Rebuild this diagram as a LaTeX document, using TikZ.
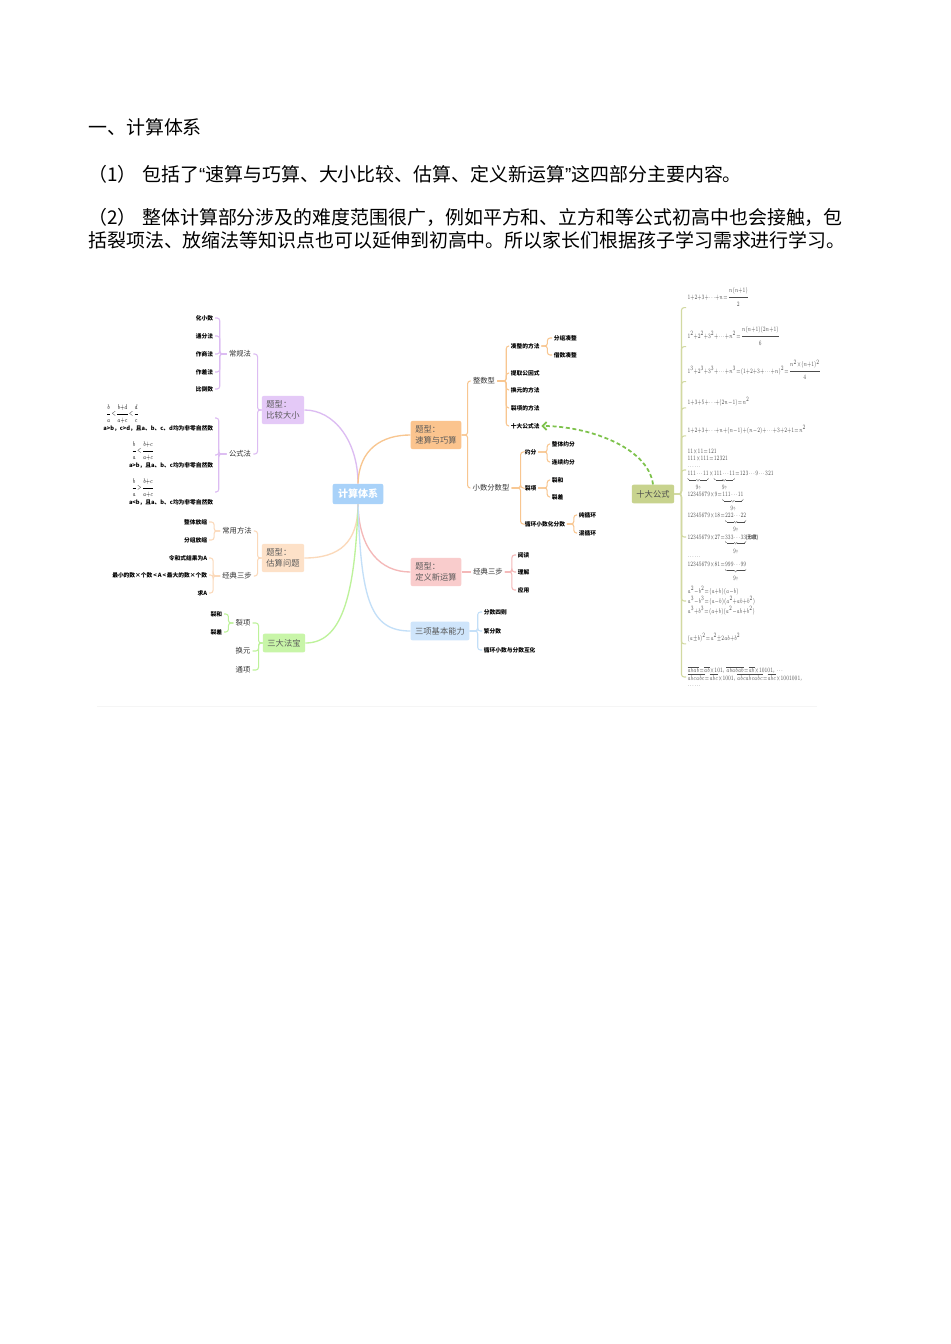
\documentclass[tikz,border=0pt]{standalone}
\usepackage{amsmath}
\usepackage{fontspec}
\setmainfont{Noto Sans CJK SC}
\newfontfamily\quotefont{Liberation Sans}
\usepackage{tikz}
\usetikzlibrary{arrows.meta,positioning}
\newcommand\tightmath{\thinmuskip=1mu\relax\medmuskip=0mu\relax\thickmuskip=1mu\relax}
\newcommand\fx[1]{\scalebox{0.62}[1]{#1}}
\definecolor{purpbox}{HTML}{E4C9F7}
\definecolor{purpline}{HTML}{DCBCF2}
\definecolor{orbox}{HTML}{FBC48E}
\definecolor{orline}{HTML}{F8C690}
\definecolor{peachbox}{HTML}{FDE1C8}
\definecolor{peachline}{HTML}{FBD9BA}
\definecolor{greenbox}{HTML}{C8F5A8}
\definecolor{greenline}{HTML}{BDF29A}
\definecolor{pinkbox}{HTML}{F9CCCC}
\definecolor{pinkline}{HTML}{F4B8B8}
\definecolor{bluebox}{HTML}{CFE5FB}
\definecolor{blueline}{HTML}{C3DFF8}
\definecolor{ctrbox}{HTML}{A9D2F9}
\definecolor{olivebox}{HTML}{C8D38E}
\definecolor{oliveline}{HTML}{D2D9A2}
\definecolor{dashgreen}{HTML}{7DC24B}
\tikzset{
  headline/.style={anchor=west, inner sep=0pt, font=\fontsize{14.2}{16}\selectfont},
  mainbox/.style={rounded corners=1.5pt, align=left, inner sep=3.5pt,
    minimum height=14pt, text=black!65, font=\fontsize{6.2}{8.5}\selectfont},
  centerbox/.style={mainbox, fill=ctrbox, text=white, inner sep=4pt,
    font=\fontsize{7.5}{9}\selectfont\bfseries},
  midtxt/.style={inner sep=1.5pt, text=black!80, font=\fontsize{5.5}{6.5}\selectfont},
  leaf/.style={inner sep=1.2pt, font=\fontsize{4.3}{5.2}\selectfont\bfseries\tightmath},
  fml/.style={anchor=west, inner sep=1pt, align=left, text=black!70,
    font=\fontsize{4.2}{5.6}\selectfont\tightmath},
  curve/.style={line width=1pt},
  branch/.style={line width=0.8pt, rounded corners=2pt}
}
\begin{document}
\begin{tikzpicture}[x=0.75pt, y=-0.75pt]
  \fill[white] (0,0) rectangle (950,1344);
  \useasboundingbox (0,0) rectangle (950,1344);

  % text above the map
  \node[headline] (title) at (88,127) {一、计算体系};
  \node[headline] (para1) at (88,174) {（1）\hspace{0.3em}包括了{\quotefont“}速算与巧算、大小比较、估算、定义新运算{\quotefont”}这四部分主要内容。};
  \node[headline] (para2) at (88,217) {（2）\hspace{0.3em}整体计算部分涉及的难度范围很广，例如平方和、立方和等公式初高中也会接触，包};
  \node[headline] (para3) at (88,240) {括裂项法、放缩法等知识点也可以延伸到初高中。所以家长们根据孩子学习需求进行学习。};
  \draw[black!4] (97,706) -- (817,706);

  % main topics
  \node[centerbox] (calc) at (358,494) {计算体系};
  \node[mainbox, fill=purpbox] (cmp) at (283,410) {题型：\\比较大小};
  \node[mainbox, fill=orbox] (fast) at (436,435) {题型：\\速算与巧算};
  \node[mainbox, fill=peachbox] (est) at (283,558) {题型：\\估算问题};
  \node[mainbox, fill=greenbox] (three) at (284,643) {三大法宝};
  \node[mainbox, fill=pinkbox] (newop) at (436,572) {题型：\\定义新运算};
  \node[mainbox, fill=bluebox] (basic) at (440,631) {三项基本能力};
  \node[mainbox, fill=olivebox, text=black!70] (ten) at (653,494) {十大公式};

  \draw[curve, purpline] (calc.north) .. controls +(0,-42) and +(30,0) .. (cmp.east);
  \draw[curve, orline] (calc.north) .. controls +(1,-35) and +(-28,0) .. (fast.west);
  \draw[curve, peachline] (calc.south) .. controls +(0,38) and +(35,0) .. (est.east);
  \draw[curve, greenline] (calc.south) .. controls +(-3,95) and +(35,0) .. (three.east);
  \draw[curve, pinkline] (calc.south) .. controls +(1,45) and +(-30,0) .. (newop.west);
  \draw[curve, blueline] (calc.south) .. controls +(3,95) and +(-40,0) .. (basic.west);

  % 比较大小
  \node[midtxt] (cgf) at (240,354) {常规法};
  \node[midtxt] (gsf) at (240,454) {公式法};
  \node[leaf, anchor=east] (hxs) at (215,318) {化小数};
  \node[leaf, anchor=east] (tff) at (215,336) {通分法};
  \node[leaf, anchor=east] (zsf) at (215,354) {作商法};
  \node[leaf, anchor=east] (zcf) at (215,372) {作差法};
  \node[leaf, anchor=east] (bds) at (215,389) {比倒数};
  \node[leaf, anchor=east, align=left] (gsa) at (215,418)
    {\hspace{2pt}\fx{$\dfrac{b}{a}<\dfrac{b+d}{a+c}<\dfrac{d}{c}$}\\a>b，c>d，且a、b、c、d均为非零自然数};
  \node[leaf, anchor=east, align=left] (gsb) at (215,455)
    {\hspace{2pt}\fx{$\dfrac{b}{a}<\dfrac{b+c}{a+c}$}\\a>b，且a、b、c均为非零自然数};
  \node[leaf, anchor=east, align=left] (gsc) at (215,492)
    {\hspace{2pt}\fx{$\dfrac{b}{a}>\dfrac{b+c}{a+c}$}\\a<b，且a、b、c均为非零自然数};
  \foreach \c in {cgf,gsf}
    \draw[branch, purpline] (cmp.west) -- ++(-4,0) |- (\c.east);
  \foreach \c in {hxs,tff,zsf,zcf,bds}
    \draw[branch, purpline] (cgf.west) -- ++(-7,0) |- (\c.east);
  \foreach \c in {gsa,gsb,gsc}
    \draw[branch, purpline] (gsf.west) -- ++(-8,0) |- (\c.east);

  % 估算问题
  \node[midtxt] (cyff) at (237,531) {常用方法};
  \node[midtxt] (jdsb) at (237,576) {经典三步};
  \node[leaf, anchor=east] (ztfs) at (209,522) {整体放缩};
  \node[leaf, anchor=east] (fzfs) at (209,540) {分组放缩};
  \node[leaf, anchor=east] (lhs) at (209,558) {令和式结果为A};
  \node[leaf, anchor=east] (zxs) at (209,575) {最小的数×个数\,<\,A\,<\,最大的数×个数};
  \node[leaf, anchor=east] (qa) at (209,593) {求A};
  \foreach \c in {cyff,jdsb}
    \draw[branch, peachline] (est.west) -- ++(-4,0) |- (\c.east);
  \foreach \c in {ztfs,fzfs}
    \draw[branch, peachline] (cyff.west) -- ++(-6,0) |- (\c.east);
  \foreach \c in {lhs,zxs,qa}
    \draw[branch, peachline] (jdsb.west) -- ++(-7,0) |- (\c.east);

  % 三大法宝
  \node[midtxt] (lx) at (243,623) {裂项};
  \node[midtxt] (hy) at (243,651) {换元};
  \node[midtxt] (tx) at (243,670) {通项};
  \node[leaf, anchor=east] (lhe) at (224,614) {裂和};
  \node[leaf, anchor=east] (lch) at (224,632) {裂差};
  \foreach \c in {lx,hy,tx}
    \draw[branch, greenline] (three.west) -- ++(-4,0) |- (\c.east);
  \foreach \c in {lhe,lch}
    \draw[branch, greenline] (lx.west) -- ++(-5,0) |- (\c.east);

  % 速算与巧算
  \node[midtxt] (zsx) at (484,381) {整数型};
  \node[midtxt] (xsfs) at (491,488) {小数分数型};
  \node[leaf, anchor=west] (czf) at (509,346) {凑整的方法};
  \node[leaf, anchor=west] (tqgys) at (509,373) {提取公因式};
  \node[leaf, anchor=west] (hyff) at (509,390) {换元的方法};
  \node[leaf, anchor=west] (lxff) at (509,408) {裂项的方法};
  \node[leaf, anchor=west] (sdgsf) at (509,426) {十大公式法};
  \node[leaf, anchor=west] (fzcz) at (552,338) {分组凑整};
  \node[leaf, anchor=west] (jscz) at (552,355) {借数凑整};
  \node[leaf, anchor=west] (yf) at (523,452) {约分};
  \node[leaf, anchor=west] (lxb) at (523,488) {裂项};
  \node[leaf, anchor=west] (xhxs) at (523,524) {循环小数化分数};
  \node[leaf, anchor=west] (ztyf) at (550,444) {整体约分};
  \node[leaf, anchor=west] (lxyf) at (550,462) {连续约分};
  \node[leaf, anchor=west] (lheb) at (550,480) {裂和};
  \node[leaf, anchor=west] (lchb) at (550,497) {裂差};
  \node[leaf, anchor=west] (cxh) at (577,515) {纯循环};
  \node[leaf, anchor=west] (hxh) at (577,533) {混循环};
  \foreach \c in {zsx,xsfs}
    \draw[branch, orline] (fast.east) -- ++(6,0) |- (\c.west);
  \foreach \c in {czf,tqgys,hyff,lxff,sdgsf}
    \draw[branch, orline] (zsx.east) -- ++(9,0) |- (\c.west);
  \foreach \c in {fzcz,jscz}
    \draw[branch, orline] (czf.east) -- ++(6,0) |- (\c.west);
  \foreach \c in {yf,lxb,xhxs}
    \draw[branch, orline] (xsfs.east) -- ++(9,0) |- (\c.west);
  \foreach \c in {ztyf,lxyf}
    \draw[branch, orline] (yf.east) -- ++(9,0) |- (\c.west);
  \foreach \c in {lheb,lchb}
    \draw[branch, orline] (lxb.east) -- ++(9,0) |- (\c.west);
  \foreach \c in {cxh,hxh}
    \draw[branch, orline] (xhxs.east) -- ++(7,0) |- (\c.west);

  % 定义新运算
  \node[midtxt] (jdsbr) at (488,572) {经典三步};
  \node[leaf, anchor=west] (yd) at (516,555) {阅读};
  \node[leaf, anchor=west] (lj) at (516,572) {理解};
  \node[leaf, anchor=west] (yy) at (516,590) {应用};
  \draw[branch, pinkline] (newop.east) -- (jdsbr.west);
  \foreach \c in {yd,lj,yy}
    \draw[branch, pinkline] (jdsbr.east) -- ++(7,0) |- (\c.west);

  % 三项基本能力
  \node[leaf, anchor=west] (fssz) at (482,612) {分数四则};
  \node[leaf, anchor=west] (ffs) at (482,631) {繁分数};
  \node[leaf, anchor=west] (xhhh) at (482,650) {循环小数与分数互化};
  \foreach \c in {fssz,ffs,xhhh}
    \draw[branch, blueline] (basic.east) -- ++(8,0) |- (\c.west);

  % 十大公式
  \node[fml] (fa) at (686,297) {\fx{$1+2+3+\cdots+n=\dfrac{n(n+1)}{2}$}};
  \node[fml] (fb) at (686,336) {\fx{$1^2+2^2+3^2+\cdots+n^2=\dfrac{n(n+1)(2n+1)}{6}$}};
  \node[fml] (fc) at (686,370) {\fx{$1^3+2^3+3^3+\cdots+n^3=(1+2+3+\cdots+n)^2=\dfrac{n^2\times(n+1)^2}{4}$}};
  \node[fml] (fd) at (686,402) {\fx{$1+3+5+\cdots+(2n-1)=n^2$}};
  \node[fml] (fe) at (686,430) {\fx{$1+2+3+\cdots+n+(n-1)+(n-2)+\cdots+3+2+1=n^2$}};
  \node[fml] (ff) at (686,470) {\fx{$11\times11=121$}\\\fx{$111\times111=12321$}\\\fx{$\cdots\cdots$}\\
    \fx{$\underbrace{111\cdots11}_{9\text{个}}\times\underbrace{111\cdots11}_{9\text{个}}=123\cdots9\cdots321$}};
  \node[fml] (fg) at (686,537) {\fx{$12345679\times9=\underbrace{111\cdots11}_{9\text{个}}$}\\
    \fx{$12345679\times18=\underbrace{222\cdots22}_{9\text{个}}$}\\
    \fx{$12345679\times27=\underbrace{333\cdots33}_{9\text{个}}$\textbf{(无8数)}}\\\fx{$\cdots\cdots$}\\
    \fx{$12345679\times81=\underbrace{999\cdots99}_{9\text{个}}$}};
  \node[fml] (fh) at (686,601) {\fx{$a^2-b^2=(a+b)(a-b)$}\\\fx{$a^3-b^3=(a-b)(a^2+ab+b^2)$}\\
    \fx{$a^3+b^3=(a+b)(a^2-ab+b^2)$}};
  \node[fml] (fi) at (686,638) {\fx{$(a\pm b)^2=a^2\pm2ab+b^2$}};
  \node[fml] (fj) at (686,677) {\fx{$\overline{abab}=\overline{ab}\times101$，$\overline{ababab}=\overline{ab}\times10101$，$\cdots$}\\
    \fx{$\overline{abcabc}=\overline{abc}\times1001$，$\overline{abcabcabc}=\overline{abc}\times1001001$，}\\\fx{$\cdots\cdots$}};
  \foreach \c in {fa,fb,fc,fd,fe,fi}
    \draw[branch, oliveline] (ten.east) -- ++(7,0) |- (\c.south west);
  \foreach \c in {ff,fg,fh,fj}
    \draw[branch, oliveline] (ten.east) -- ++(7,0) |- (\c.west);

  \draw[dashgreen, line width=1.3pt, dash pattern=on 3pt off 2pt,
    -{Straight Barb[length=3pt, width=6pt]}]
    (ten.north) .. controls +(-5,-38) and +(45,0) .. (sdgsf.east);
\end{tikzpicture}
\end{document}
